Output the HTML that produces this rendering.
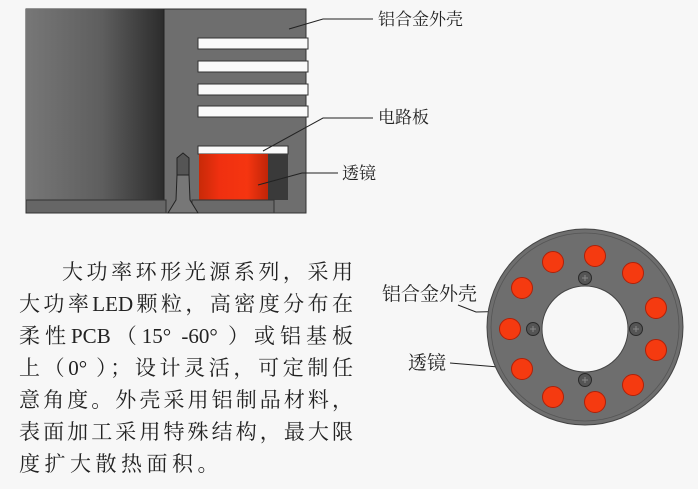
<!DOCTYPE html>
<html><head><meta charset="utf-8"><style>
body{margin:0;width:698px;height:489px;background:#f7f7f7;position:relative;overflow:hidden;font-family:"Liberation Serif","Noto Serif CJK SC",serif;color:#222}
.l{position:absolute;left:19px;width:334px;font-size:21px;line-height:24px;text-align:justify;text-align-last:justify;white-space:nowrap}
.lb{position:absolute;font-size:17px;line-height:20px;white-space:nowrap}
</style></head><body>
<svg width="698" height="489" style="position:absolute;left:0;top:0">
<defs>
<linearGradient id="g" x1="0" x2="1"><stop offset="0" stop-color="#777"/><stop offset="0.55" stop-color="#5e5e5e"/><stop offset="1" stop-color="#2c2c2c"/></linearGradient>
<linearGradient id="r" x1="0" x2="1"><stop offset="0" stop-color="#c82a08"/><stop offset="0.3" stop-color="#f03010"/><stop offset="0.7" stop-color="#f53510"/><stop offset="1" stop-color="#c02508"/></linearGradient>
</defs>
<rect x="26" y="9" width="280" height="204" fill="#6e6e6e" stroke="#333"/>
<rect x="26" y="9" width="138" height="204" fill="url(#g)"/>
<line x1="164" y1="9" x2="164" y2="213" stroke="#222"/>
<g fill="#fafafa" stroke="#333">
<rect x="198" y="38" width="110" height="11"/><rect x="198" y="61" width="110" height="11"/><rect x="198" y="84" width="110" height="11"/><rect x="198" y="106" width="110" height="11"/>
<rect x="198" y="146" width="90" height="8"/>
</g>
<rect x="199" y="154" width="69" height="46" fill="url(#r)"/>
<rect x="268" y="154" width="20" height="46" fill="#3a3a3a"/>
<rect x="26" y="200" width="140" height="13" fill="#666" stroke="#333"/>
<rect x="192" y="200" width="82" height="13" fill="#6a6a6a" stroke="#333"/>
<path d="M177 175 L177 158 L183 153 L189 158 L189 175 Z" fill="#555" stroke="#222"/>
<path d="M177 175 L189 175 L190 200 L198 213 L168 213 L176 200 Z" fill="#777" stroke="#222"/>
<g stroke="#222" fill="none" stroke-width="1">
<polyline points="289,29 323,19 373,19"/>
<polyline points="263,151 323,118 373,118"/>
<polyline points="258,185 302,173 338,173"/>
<polyline points="458,305 476,312 517,311"/>
<polyline points="450,363 522,369"/>
</g>
<circle cx="585" cy="327" r="98" fill="#6e6e6e" stroke="#444"/>
<circle cx="585" cy="327" r="94" fill="none" stroke="#555" stroke-width="0.8"/>
<circle cx="585" cy="329" r="43" fill="#f7f7f7" stroke="#444"/>
<g fill="#f53a10" stroke="#b02008">
<circle cx="553" cy="262" r="10.5"/><circle cx="595" cy="256" r="10.5"/><circle cx="633" cy="273" r="10.5"/><circle cx="656" cy="308" r="10.5"/><circle cx="656" cy="350" r="10.5"/><circle cx="633" cy="385" r="10.5"/><circle cx="595" cy="402" r="10.5"/><circle cx="553" cy="397" r="10.5"/><circle cx="522" cy="369" r="10.5"/><circle cx="510" cy="329" r="10.5"/><circle cx="522" cy="288" r="10.5"/>
</g>
<g fill="#555" stroke="#2a2a2a">
<circle cx="585" cy="278" r="6.5"/><circle cx="533" cy="329" r="6.5"/><circle cx="636" cy="329" r="6.5"/><circle cx="585" cy="380" r="6.5"/>
</g>
<g stroke="#888" stroke-width="1">
<path d="M582 278h6M585 275v6M530 329h6M533 326v6M633 329h6M636 326v6M582 380h6M585 377v6"/>
</g>
</svg>
<div class="lb" style="left:378px;top:10px">铝合金外壳</div>
<div class="lb" style="left:378px;top:108px">电路板</div>
<div class="lb" style="left:342px;top:164px">透镜</div>
<div class="lb" style="left:382px;top:285px;font-size:19px">铝合金外壳</div>
<div class="lb" style="left:408px;top:354px;font-size:19px">透镜</div>
<div class="l" style="left:62px;width:291px;top:260px">大功率环形光源系列，采用</div>
<div class="l" style="top:292px">大功率LED颗粒，高密度分布在</div>
<div class="l" style="top:324px">柔性PCB（15° -60° ）或铝基板</div>
<div class="l" style="top:356px">上（0° ）；设计灵活，可定制任</div>
<div class="l" style="top:388px">意角度。外壳采用铝制品材料，</div>
<div class="l" style="top:420px">表面加工采用特殊结构，最大限</div>
<div class="l" style="top:452px;width:auto;text-align-last:auto;letter-spacing:4.5px">度扩大散热面积。</div>
</body></html>
